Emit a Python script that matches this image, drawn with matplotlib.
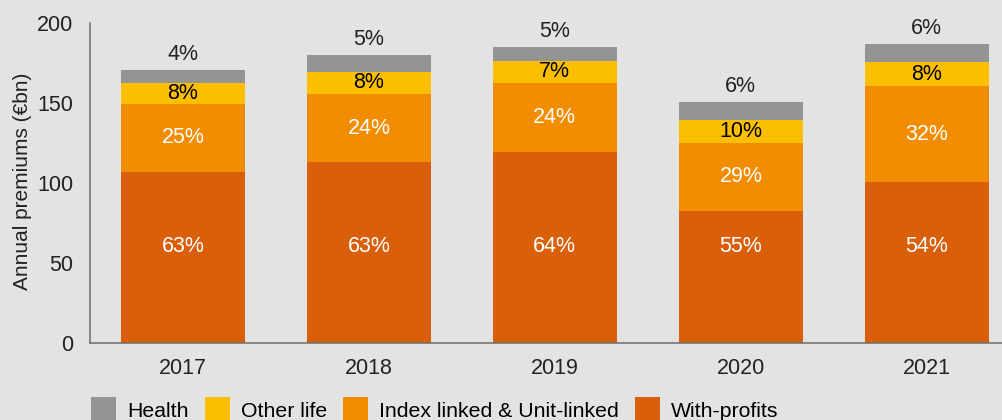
import numpy as np
import matplotlib
matplotlib.use("Agg")
import matplotlib.pyplot as plt

# Annual premiums by line of business (EUR bn)
years = ["2017", "2018", "2019", "2020", "2021"]
with_profits = [107.0, 113.0, 119.5, 82.5, 100.5]
index_unit_linked = [42.5, 42.5, 43.0, 42.5, 60.0]
other_life = [13.0, 14.0, 14.0, 14.5, 15.0]
health = [8.0, 10.5, 8.5, 11.0, 11.5]

# Share labels printed on each segment
wp_share = ["63%", "63%", "64%", "55%", "54%"]
iul_share = ["25%", "24%", "24%", "29%", "32%"]
other_share = ["8%", "8%", "7%", "10%", "8%"]
health_share = ["4%", "5%", "5%", "6%", "6%"]

BG = "#e3e3e3"
C_WP = "#d95f0a"
C_IUL = "#f28c00"
C_OTHER = "#fbbf00"
C_HEALTH = "#949494"

plt.rcParams["font.family"] = ["Liberation Sans", "DejaVu Sans"]
plt.rcParams["font.size"] = 15.5

fig = plt.figure(figsize=(10.03, 4.20), dpi=100, facecolor=BG)
ax = fig.add_axes([90 / 1003, 1 - 343 / 420, 1 - 90 / 1003, 320 / 420])
ax.set_facecolor(BG)

x = np.arange(len(years))
w = 0.667
wp = np.array(with_profits)
iul = np.array(index_unit_linked)
oth = np.array(other_life)
hl = np.array(health)

ax.bar(x, wp, w, color=C_WP, label="With-profits")
ax.bar(x, iul, w, bottom=wp, color=C_IUL, label="Index linked & Unit-linked")
ax.bar(x, oth, w, bottom=wp + iul, color=C_OTHER, label="Other life")
ax.bar(x, hl, w, bottom=wp + iul + oth, color=C_HEALTH, label="Health")

WP_LABEL_Y = 60
for i in range(len(years)):
    ax.text(x[i], WP_LABEL_Y, wp_share[i], ha="center", va="center", color="white")
    ax.text(x[i], wp[i] + iul[i] / 2, iul_share[i], ha="center", va="center", color="white")
    ax.text(x[i], wp[i] + iul[i] + oth[i] / 2, other_share[i], ha="center", va="center", color="black")
    top = wp[i] + iul[i] + oth[i] + hl[i]
    ax.annotate(health_share[i], (x[i], top), xytext=(0, 11), textcoords="offset points",
                ha="center", va="center", color="#222222")

ax.set_xlim(-0.5, 4.41)
ax.set_ylim(0, 200)
ax.set_yticks([0, 50, 100, 150, 200])
ax.set_xticks(x)
ax.set_xticklabels(years)
ax.tick_params(axis="x", length=0, pad=11, colors="#222222")
ax.tick_params(axis="y", length=0, pad=12, colors="#222222")

for s in ["top", "right"]:
    ax.spines[s].set_visible(False)
for s in ["left", "bottom"]:
    ax.spines[s].set_color("#6d6d6d")
    ax.spines[s].set_linewidth(1.1)

fig.text(23 / 1003, 1 - 181 / 420, "Annual premiums (€bn)", rotation=90,
         ha="center", va="center", color="#222222", fontsize=15)

handles, labels = ax.get_legend_handles_labels()
order = [3, 2, 1, 0]
fig.legend([handles[k] for k in order], [labels[k] for k in order],
           loc="upper left", bbox_to_anchor=(91 / 1003, 1 - 397 / 420),
           ncol=4, frameon=False, borderpad=0, borderaxespad=0,
           handlelength=1.2, handleheight=1.5, handletextpad=0.5,
           columnspacing=0.75, fontsize=15.3)

fig.savefig("out.png", dpi=100, facecolor=BG)
